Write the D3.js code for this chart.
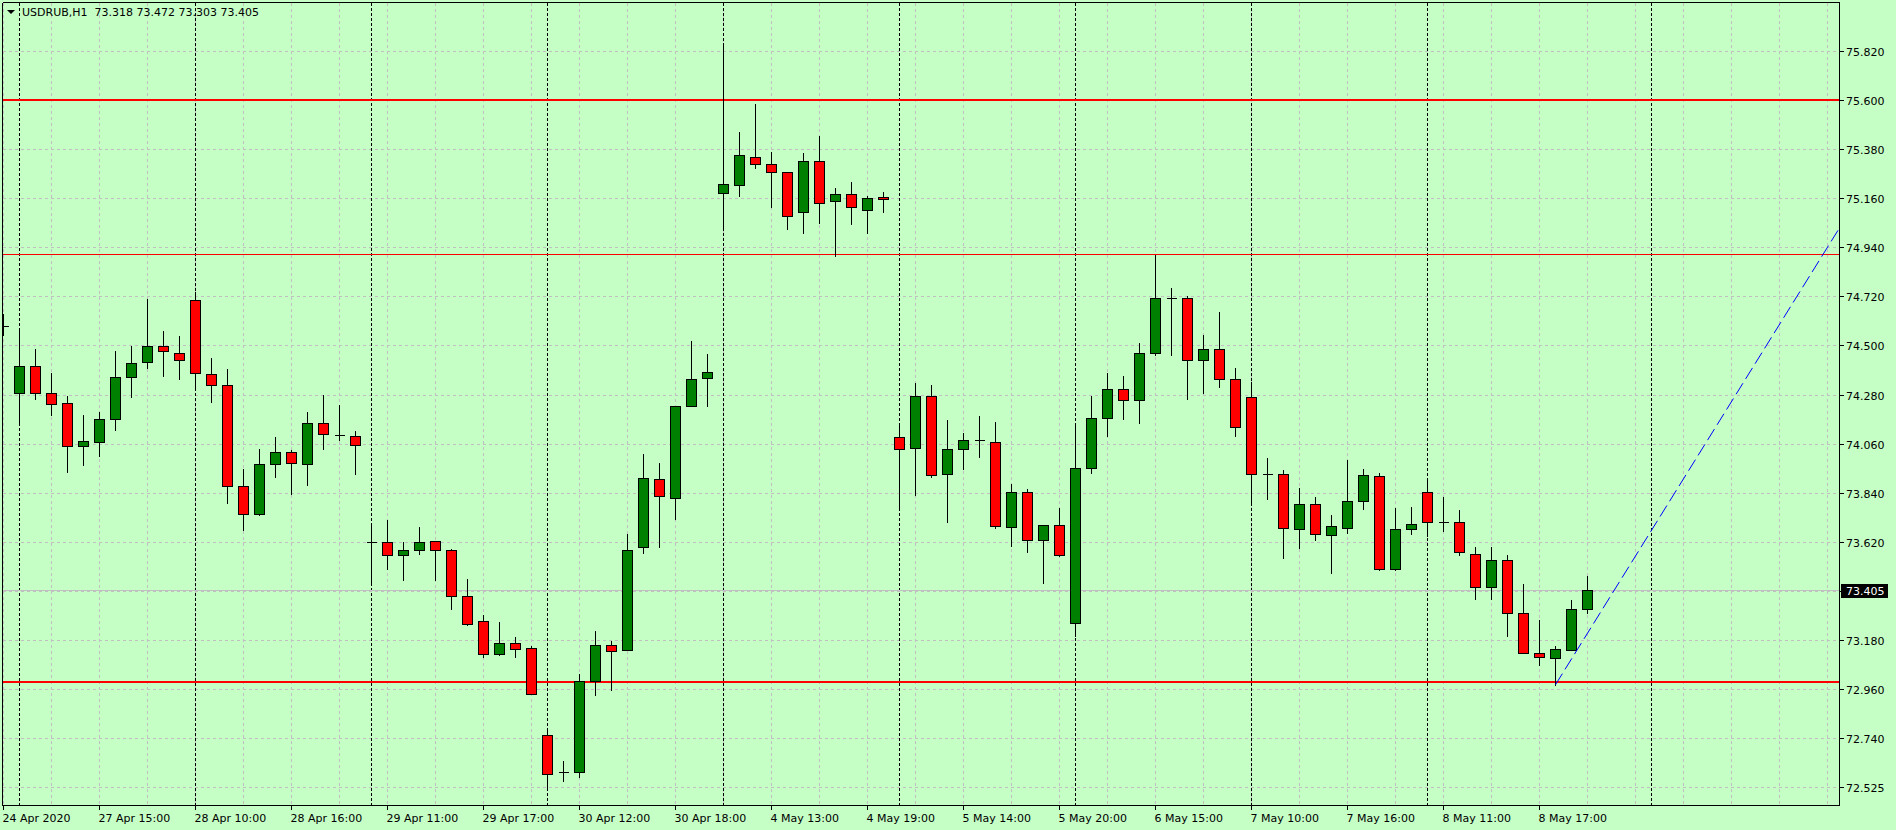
<!DOCTYPE html>
<html><head><meta charset="utf-8">
<script src="https://cdn.jsdelivr.net/npm/d3@7"></script>
<style>
html,body{margin:0;padding:0;background:#c6ffc6;overflow:hidden}
svg{display:block}
text{font-family:"DejaVu Sans",Verdana,sans-serif;font-size:11px;fill:#000}
</style></head><body>
<svg id="chart" width="1896" height="830"></svg>
<script>
// ---------------- data ----------------
const symbol = "USDRUB,H1";
const firstBarTime = "24 Apr 20:00";
const sessionDays = ["27 Apr","28 Apr","29 Apr","30 Apr","4 May","5 May","6 May","7 May","8 May"];
const sessionHours = ["10:00","11:00","12:00","13:00","14:00","15:00","16:00","17:00","18:00","19:00","20:00"];

const open = [74.587,74.289,74.409,74.289,74.243,74.049,74.068,74.172,74.360,74.426,
74.497,74.466,74.703,74.372,74.324,73.869,73.743,73.969,74.023,73.969,
74.153,74.097,74.094,73.620,73.620,73.561,73.584,73.625,73.584,73.376,
73.264,73.117,73.167,73.143,72.755,72.587,72.587,72.997,73.158,73.134,
73.596,73.902,73.817,74.229,74.353,75.185,75.220,75.343,75.313,75.277,
75.097,75.327,75.149,75.178,75.106,75.163,74.089,74.042,74.274,73.926,
74.037,74.075,74.066,73.686,73.843,73.627,73.696,73.255,73.952,74.175,
74.305,74.255,74.466,74.713,74.713,74.436,74.485,74.350,74.270,73.924,
73.926,73.679,73.791,73.651,73.684,73.805,73.916,73.499,73.679,73.843,
73.710,73.710,73.565,73.416,73.539,73.302,73.122,73.101,73.137,73.318];
const high = [74.647,74.582,74.488,74.379,74.279,74.191,74.208,74.478,74.500,74.711,
74.571,74.545,74.746,74.447,74.398,73.950,74.042,74.092,74.037,74.208,
74.281,74.236,74.120,73.696,73.722,73.625,73.691,73.630,73.594,73.456,
73.295,73.264,73.200,73.158,72.783,72.641,73.034,73.224,73.181,73.658,
74.018,73.976,74.232,74.523,74.464,75.860,75.462,75.588,75.372,75.282,
75.367,75.443,75.208,75.237,75.172,75.194,74.156,74.334,74.329,74.172,
74.111,74.187,74.161,73.883,73.859,73.696,73.774,74.156,74.279,74.379,
74.369,74.516,74.910,74.760,74.725,74.549,74.656,74.402,74.341,74.000,
73.947,73.864,73.826,73.743,73.990,73.950,73.931,73.774,73.781,73.912,
73.824,73.769,73.603,73.601,73.565,73.435,73.276,73.158,73.366,73.472];
const low = [74.547,74.144,74.260,74.189,73.933,73.966,74.006,74.123,74.270,74.400,
74.362,74.350,74.305,74.248,73.795,73.675,73.740,73.912,73.833,73.876,
74.037,74.075,73.926,73.442,73.497,73.449,73.565,73.449,73.319,73.248,
73.106,73.113,73.106,72.940,72.518,72.548,72.565,72.935,72.954,73.134,
73.570,73.596,73.722,74.229,74.229,75.026,75.170,75.296,75.121,75.021,
75.004,75.050,74.900,75.045,75.004,75.097,73.767,73.831,73.912,73.710,
73.947,74.002,73.684,73.603,73.575,73.437,73.556,73.198,73.928,74.096,
74.172,74.151,74.457,74.457,74.260,74.286,74.315,74.096,73.798,73.812,
73.549,73.592,73.627,73.482,73.660,73.765,73.494,73.494,73.656,73.646,
73.670,73.563,73.364,73.362,73.198,73.122,73.070,72.980,73.137,73.303];
const close = [74.587,74.409,74.289,74.239,74.049,74.073,74.170,74.360,74.421,74.497,
74.473,74.436,74.376,74.324,73.869,73.743,73.969,74.023,73.973,74.153,
74.101,74.097,74.054,73.620,73.563,73.584,73.620,73.584,73.376,73.253,
73.117,73.167,73.141,72.940,72.582,72.587,72.997,73.158,73.129,73.584,
73.907,73.824,74.229,74.350,74.383,75.223,75.353,75.315,75.277,75.080,
75.327,75.140,75.178,75.118,75.160,75.154,74.035,74.274,73.921,74.037,
74.078,74.075,73.691,73.843,73.627,73.696,73.563,73.952,74.175,74.305,
74.255,74.466,74.713,74.713,74.436,74.485,74.350,74.134,73.926,73.924,
73.684,73.791,73.656,73.691,73.805,73.921,73.499,73.679,73.701,73.710,
73.710,73.575,73.416,73.539,73.302,73.122,73.106,73.141,73.317,73.405];

const xTickLabels = ["24 Apr 2020","27 Apr 15:00","28 Apr 10:00","28 Apr 16:00","29 Apr 11:00",
"29 Apr 17:00","30 Apr 12:00","30 Apr 18:00","4 May 13:00","4 May 19:00","5 May 14:00",
"5 May 20:00","6 May 15:00","7 May 10:00","7 May 16:00","8 May 11:00","8 May 17:00"];
const yTickLabels = ["75.820","75.600","75.380","75.160","74.940","74.720","74.500","74.280",
"74.060","73.840","73.620","73.405","73.180","72.960","72.740","72.525"];
const yGridPrices = [75.82,75.60,75.38,75.16,74.94,74.72,74.50,74.28,74.06,73.84,73.62,73.40,73.18,72.96,72.74,72.52];
const levelPrices = [75.600, 74.911, 72.993];
const trendBars = [97, 114];
const trendPrices = [72.980, 74.940];

// ---------------- layout ----------------
const times = [firstBarTime];
sessionDays.forEach(d => sessionHours.forEach(h => times.push(d + " " + h)));
const n = close.length;
const candles = d3.range(n).map(i => ({i, o: open[i], h: high[i], l: low[i], c: close[i], t: times[i]}));

const P = {left: 2.5, top: 2.5, right: 1839.5, bottom: 805.5};
const x = d3.scaleLinear().domain([0, 114.75]).range([3.5, 1839.5]);
const y = d3.scaleLinear().domain([72.4365, 76.0364]).range([806, 2.5]);
const ry = p => Math.round(y(p));
const GRID = "#c0c0c0";

const svg = d3.select("#chart");
svg.append("rect").attr("width", 1896).attr("height", 830).attr("fill", "#c6ffc6");

svg.append("defs").append("clipPath").attr("id", "plotclip")
  .append("rect").attr("x", P.left).attr("y", P.top)
  .attr("width", P.right - P.left).attr("height", P.bottom - P.top);

const g = svg.append("g").attr("clip-path", "url(#plotclip)").attr("shape-rendering", "crispEdges");

// horizontal grid
g.append("g").selectAll("line").data(yGridPrices).join("line")
  .attr("x1", P.left).attr("x2", P.right)
  .attr("y1", d => ry(d) + 0.5).attr("y2", d => ry(d) + 0.5)
  .attr("stroke", GRID).attr("stroke-dasharray", "3,3");

// vertical grid every 3 bars (incl. future area)
const lastIdx = Math.floor(x.domain()[1]);
const gridBars = d3.range(0, lastIdx + 1).filter(i => i % 3 === 0);
g.append("g").selectAll("line").data(gridBars).join("line")
  .attr("x1", d => x(d)).attr("x2", d => x(d))
  .attr("y1", P.top).attr("y2", P.bottom)
  .attr("stroke", GRID).attr("stroke-dasharray", "3,3");

// day separators: first bar of each session + next midnight after last bar
const sepBars = d3.range(1, n).filter(i => times[i].endsWith("10:00"));
const lastHour = parseInt(times[n - 1].split(" ")[2]);
sepBars.push(n - 1 + (24 - lastHour));
g.append("g").selectAll("line").data(sepBars).join("line")
  .attr("x1", d => x(d)).attr("x2", d => x(d))
  .attr("y1", P.top).attr("y2", P.bottom)
  .attr("stroke", "#000").attr("stroke-dasharray", "3,2");

// bid line
const bid = close[n - 1];
g.append("line").attr("x1", P.left).attr("x2", P.right)
  .attr("y1", ry(bid) + 0.5).attr("y2", ry(bid) + 0.5)
  .attr("stroke", "#c0c0c0");

// level lines
const levelWidth = [2, 1, 2];
g.append("g").selectAll("line").data(levelPrices).join("line")
  .attr("x1", P.left).attr("x2", P.right)
  .attr("y1", (d, k) => ry(d) + (levelWidth[k] === 1 ? 0.5 : 0))
  .attr("y2", (d, k) => ry(d) + (levelWidth[k] === 1 ? 0.5 : 0))
  .attr("stroke", "#ff0000").attr("stroke-width", (d, k) => levelWidth[k]);

// candles
const cg = g.append("g");
const cd = cg.selectAll("g").data(candles).join("g");
cd.append("line")
  .attr("x1", d => x(d.i)).attr("x2", d => x(d.i))
  .attr("y1", d => ry(d.h) + 0.5).attr("y2", d => ry(d.l) + 0.5)
  .attr("stroke", "#000");
cd.filter(d => ry(d.o) !== ry(d.c)).append("rect")
  .attr("x", d => x(d.i) - 5).attr("width", 10)
  .attr("y", d => ry(Math.max(d.o, d.c)) + 0.5)
  .attr("height", d => ry(Math.min(d.o, d.c)) - ry(Math.max(d.o, d.c)))
  .attr("fill", d => d.c >= d.o ? "#008000" : "#ff0000")
  .attr("stroke", "#000");
cd.filter(d => ry(d.o) === ry(d.c)).append("line")
  .attr("x1", d => x(d.i) - 5).attr("x2", d => x(d.i) + 5)
  .attr("y1", d => ry(d.c) + 0.5).attr("y2", d => ry(d.c) + 0.5)
  .attr("stroke", "#000");

// trend line (ray)
const slope = (trendPrices[1] - trendPrices[0]) / (trendBars[1] - trendBars[0]);
const endBar = x.domain()[1];
g.append("line")
  .attr("x1", x(trendBars[0])).attr("y1", y(trendPrices[0]))
  .attr("x2", x(endBar)).attr("y2", y(trendPrices[0] + slope * (endBar - trendBars[0])))
  .attr("stroke", "#0000ff").attr("stroke-dasharray", "13,5")
  .attr("shape-rendering", "auto");

// frame
const fr = svg.append("g").attr("shape-rendering", "crispEdges");
fr.append("line").attr("x1", P.left).attr("x2", P.right).attr("y1", P.top).attr("y2", P.top).attr("stroke", "#000");
fr.append("line").attr("x1", P.left).attr("x2", P.right).attr("y1", P.bottom).attr("y2", P.bottom).attr("stroke", "#000");
fr.append("line").attr("x1", P.left).attr("x2", P.left).attr("y1", P.top).attr("y2", P.bottom).attr("stroke", "#000");
fr.append("line").attr("x1", P.right).attr("x2", P.right).attr("y1", P.top).attr("y2", P.bottom).attr("stroke", "#000");

// right axis
const ya = svg.append("g");
ya.selectAll("line").data(yGridPrices).join("line")
  .attr("shape-rendering", "crispEdges")
  .attr("x1", P.right).attr("x2", P.right + 4)
  .attr("y1", d => ry(d) + 0.5).attr("y2", d => ry(d) + 0.5).attr("stroke", "#000");
ya.selectAll("text").data(yTickLabels).join("text")
  .attr("x", 1846).attr("y", (d, k) => ry(yGridPrices[k]) + 4.5)
  .text(d => d);

// bid label
svg.append("rect").attr("x", 1841).attr("y", ry(bid) - 6).attr("width", 47).attr("height", 14)
  .attr("fill", "#000");
svg.append("text").attr("x", 1846).attr("y", ry(bid) + 5).attr("fill", "#fff").style("fill", "#fff")
  .text(d3.format(".3f")(bid));

// bottom axis
const xTicks = xTickLabels.map(lbl => {
  let idx = times.indexOf(lbl);
  if (idx < 0) idx = 0;
  return {idx, lbl};
});
const xa = svg.append("g");
xa.selectAll("line").data(xTicks).join("line")
  .attr("shape-rendering", "crispEdges")
  .attr("x1", d => x(d.idx)).attr("x2", d => x(d.idx))
  .attr("y1", P.bottom).attr("y2", P.bottom + 4).attr("stroke", "#000");
xa.selectAll("text").data(xTicks).join("text")
  .attr("x", d => x(d.idx) - 1).attr("y", 821.5)
  .text(d => d.lbl);

// header
svg.append("path").attr("d", "M7,10 L15,10 L11,14 Z").attr("fill", "#000");
const f3 = d3.format(".3f");
svg.append("text").attr("x", 22).attr("y", 15.5).attr("xml:space", "preserve")
  .style("white-space", "pre")
  .text(symbol + "  " + [open[n-1], high[n-1], low[n-1], close[n-1]].map(f3).join(" "));
</script>
</body></html>
